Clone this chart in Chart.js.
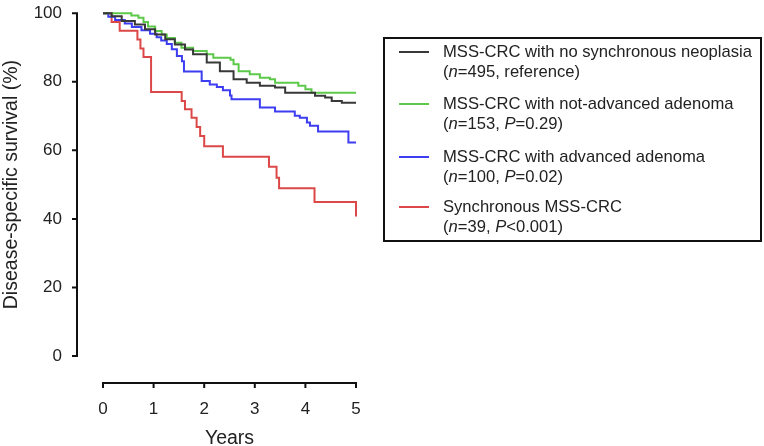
<!DOCTYPE html>
<html>
<head>
<meta charset="utf-8">
<script src="https://cdn.jsdelivr.net/npm/chart.js@4.4.1/dist/chart.umd.min.js"></script>
<style>
  html, body { margin: 0; padding: 0; background: #fff; }
  #wrap { position: relative; width: 764px; height: 446px; }
  #c { position: absolute; left: 0; top: 0; }
  #legend { position: absolute; left: 383px; top: 37px; width: 379px; height: 205px;
            border: 2px solid #111; box-sizing: border-box; font-family: "Liberation Sans", Arial, Helvetica, sans-serif;
            font-size: 16.6px; color: #222; }
  .ln { position: absolute; left: 58px; white-space: nowrap; line-height: 20px; }
  .sw { position: absolute; left: 14px; width: 30px; height: 2px; }
</style>
</head>
<body>
<div id="wrap">
  <canvas id="c" width="764" height="446"></canvas>
  <div id="legend"></div>
</div>
<script>
// ---- data ----
const xTickLabels = [0, 1, 2, 3, 4, 5];
const yTickLabels = [0, 20, 40, 60, 80, 100];

const seriesNames = [
  "MSS-CRC with no synchronous neoplasia",
  "MSS-CRC with not-advanced adenoma",
  "MSS-CRC with advanced adenoma",
  "Synchronous MSS-CRC"
];
const seriesNotes = [
  "(<i>n</i>=495, reference)",
  "(<i>n</i>=153, <i>P</i>=0.29)",
  "(<i>n</i>=100, <i>P</i>=0.02)",
  "(<i>n</i>=39, <i>P</i>&lt;0.001)"
];

const blackTime = [0, 0.17, 0.37, 0.63, 0.83, 1.03, 1.23, 1.42, 1.62, 1.78, 2.05, 2.31, 2.58, 2.84, 3.10, 3.40, 3.60, 4.19, 4.39, 4.52, 4.72, 5.0];
const blackSurv = [100, 99.1, 97.7, 96.7, 95.3, 93.8, 92.4, 90.9, 89.4, 88.0, 85.6, 83.1, 80.7, 79.7, 78.8, 78.3, 76.8, 75.9, 75.4, 74.4, 73.9, 73.9];

const greenTime = [0, 0.56, 0.70, 0.80, 0.89, 1.03, 1.16, 1.26, 1.42, 1.55, 1.78, 2.05, 2.18, 2.52, 2.58, 2.68, 2.90, 3.10, 3.30, 3.40, 3.86, 4.00, 4.12, 5.0];
const greenSurv = [100, 99.3, 98.7, 97.4, 96.1, 94.8, 93.8, 92.8, 91.4, 89.9, 89.0, 88.0, 87.0, 86.4, 85.1, 83.1, 82.2, 81.2, 80.7, 79.7, 78.8, 77.8, 76.8, 76.8];

const blueTime = [0, 0.105, 0.24, 0.43, 0.57, 0.76, 0.93, 1.06, 1.15, 1.26, 1.36, 1.46, 1.56, 1.60, 1.95, 2.11, 2.25, 2.37, 2.51, 2.54, 3.10, 3.40, 3.79, 3.89, 4.03, 4.09, 4.25, 4.85, 5.0];
const blueSurv = [100, 99, 98, 97, 96, 95, 94, 93, 92, 91, 89.5, 87.5, 86, 83, 80.2, 79.2, 78.5, 77.5, 76, 74.9, 72.5, 71.3, 70.1, 69.5, 68.1, 67.2, 65.5, 62.3, 62.3];

const redTime = [0, 0.17, 0.33, 0.68, 0.74, 0.80, 0.95, 1.555, 1.62, 1.75, 1.85, 1.92, 2.0, 2.37, 3.28, 3.43, 3.48, 4.18, 5.0];
const redSurv = [100, 97.4, 94.9, 92.3, 89.7, 87.2, 77.0, 74.4, 72.0, 69.5, 66.8, 64.2, 61.2, 58.1, 55.2, 52.0, 48.9, 44.9, 40.7];

const colors = ["#383838", "#5cc94a", "#3d3df2", "#dc4848"];

// ---- build ----
function pts(t, s) { return t.map((v, i) => ({ x: v, y: s[i] })); }
const seriesData = [pts(blackTime, blackSurv), pts(greenTime, greenSurv), pts(blueTime, blueSurv), pts(redTime, redSurv)];

const FONT = '"Liberation Sans", Arial, Helvetica, sans-serif';

// legend (HTML, real text)
const legend = document.getElementById('legend');
const rowTops = [3, 55, 108, 158];
seriesNames.forEach((name, i) => {
  const t = rowTops[i];
  const sw = document.createElement('div');
  sw.className = 'sw'; sw.style.top = (t + 9) + 'px'; sw.style.background = colors[i];
  legend.appendChild(sw);
  const a = document.createElement('div');
  a.className = 'ln'; a.style.top = t + 'px'; a.textContent = name;
  legend.appendChild(a);
  const b = document.createElement('div');
  b.className = 'ln'; b.style.top = (t + 20) + 'px'; b.innerHTML = seriesNotes[i];
  legend.appendChild(b);
});

const axesPlugin = {
  id: 'offsetAxes',
  afterDraw(chart) {
    const ctx = chart.ctx, xs = chart.scales.x, ys = chart.scales.y;
    ctx.save();
    ctx.strokeStyle = '#111';
    ctx.lineWidth = 2;
    // y axis
    const ax = 77;
    ctx.beginPath();
    ctx.moveTo(ax, ys.getPixelForValue(100) - 1);
    ctx.lineTo(ax, ys.getPixelForValue(0) + 1);
    yTickLabels.forEach(v => {
      const p = ys.getPixelForValue(v);
      ctx.moveTo(ax - 5, p); ctx.lineTo(ax, p);
    });
    ctx.stroke();
    // x axis
    const ay = 383;
    ctx.beginPath();
    ctx.moveTo(xs.getPixelForValue(0) - 1, ay);
    ctx.lineTo(xs.getPixelForValue(5) + 1, ay);
    xTickLabels.forEach(v => {
      const p = xs.getPixelForValue(v);
      ctx.moveTo(p, ay); ctx.lineTo(p, ay + 5);
    });
    ctx.stroke();
    ctx.restore();
  }
};

new Chart(document.getElementById('c'), {
  type: 'line',
  data: {
    datasets: seriesData.map((d, i) => ({
      label: seriesNames[i],
      data: d,
      borderColor: colors[i],
      backgroundColor: colors[i],
      borderWidth: 2,
      pointRadius: 0,
      stepped: 'before',
      fill: false,
      order: i,
      clip: false
    }))
  },
  options: {
    responsive: false,
    animation: false,
    events: [],
    layout: { padding: { left: 0, right: 408, top: 12, bottom: 0 } },
    plugins: { legend: { display: false }, tooltip: { enabled: false } },
    scales: {
      x: {
        type: 'linear', min: 0, max: 5,
        grid: { display: false, drawTicks: true, tickLength: 40 },
        border: { display: false },
        afterBuildTicks: (s) => { s.ticks = xTickLabels.map(v => ({ value: v })); },
        ticks: { color: '#222', font: { family: FONT, size: 17 }, padding: 3, maxRotation: 0 },
        title: { display: true, text: 'Years', color: '#222', font: { family: FONT, size: 19.5, lineHeight: 1 }, padding: { top: 0, bottom: -2 } },
        afterFit: (s) => { s.height = 90; }
      },
      y: {
        type: 'linear', min: 0, max: 100,
        grid: { display: false, drawTicks: true, tickLength: 38 },
        border: { display: false },
        afterBuildTicks: (s) => { s.ticks = yTickLabels.map(v => ({ value: v })); },
        ticks: { color: '#222', font: { family: FONT, size: 17 }, padding: 3 },
        title: { display: true, text: 'Disease-specific survival (%)', color: '#222', font: { family: FONT, size: 19.5 }, padding: { top: 0, bottom: 0 } },
        afterFit: (s) => { s.width = 103; }
      }
    }
  },
  plugins: [axesPlugin]
});
</script>
</body>
</html>
